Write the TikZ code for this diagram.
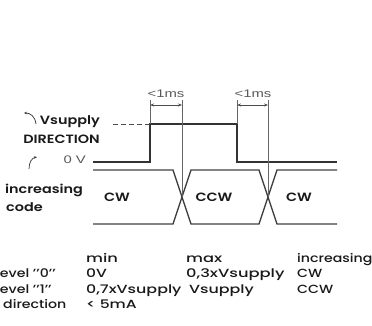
\documentclass[tikz,border=0pt]{standalone}
\usepackage{graphicx}
\usepackage{fontspec}
\setmainfont{Poppins}[UprightFont=* Medium, BoldFont=* SemiBold, FakeStretch=1.2]
\newfontfamily\arialf{Liberation Sans}[FakeStretch=1.35]
\usetikzlibrary{arrows.meta}
\newcommand{\wideT}[2]{\scalebox{#1}[1]{#2}}
\begin{document}
\begin{tikzpicture}[x=1pt,y=-1pt,
  sig/.style={line width=1.6pt, draw=black!80, line join=miter},
  bus/.style={line width=1.4pt, draw=black!75},
  guide/.style={line width=0.5pt, draw=black!60},
  dim/.style={line width=0.6pt, draw=black!70, {Stealth[length=4pt,width=3pt]}-{Stealth[length=4pt,width=3pt]}},
  curv/.style={line width=0.7pt, draw=black!80, -{Stealth[length=3pt,width=2.5pt]}},
  lbl/.style={font=\bfseries\fontsize{12}{14}\selectfont, inner sep=0pt, text=black!90},
  tbl/.style={font=\fontsize{11.8}{14}\selectfont, inner sep=0pt, anchor=base west, text=black!90},
  ms/.style={font=\arialf\fontsize{11}{13}\selectfont, text=black!65, inner sep=0pt}]
\useasboundingbox (0,0) rectangle (372,325);
% waveform points
\coordinate (s0) at (93,162);
\coordinate (s1) at (150,162);
\coordinate (s2) at (150,124);
\coordinate (s3) at (237,124);
\coordinate (s4) at (237,162);
\coordinate (s5) at (337,162);
\coordinate (d0) at (113,124);
\draw[sig] (s0) -- (s1) -- (s2) -- (s3) -- (s4) -- (s5);
\draw[line width=0.6pt, draw=black!70, dash pattern=on 5pt off 3pt] (d0) -- (s2);
% bus
\coordinate (t0) at (93,170); \coordinate (t1) at (173,170); \coordinate (t2) at (191,224);
\coordinate (t3) at (259,224); \coordinate (t4) at (277,170); \coordinate (t5) at (337,170);
\coordinate (b0) at (93,224); \coordinate (b1) at (173,224); \coordinate (b2) at (191,170);
\coordinate (b3) at (259,170); \coordinate (b4) at (277,224); \coordinate (b5) at (337,224);
\draw[bus] (t0) -- (t1) -- (t2) -- (t3) -- (t4) -- (t5);
\draw[bus] (b0) -- (b1) -- (b2) -- (b3) -- (b4) -- (b5);
% guides
\coordinate (g1a) at (150,100); \coordinate (g2a) at (182,100); \coordinate (g2b) at (182,197);
\coordinate (g3a) at (237,100); \coordinate (g4a) at (268,100); \coordinate (g4b) at (268,197);
\draw[guide] (g1a) -- (s2);
\draw[guide] (g2a) -- (g2b);
\draw[guide] (g3a) -- (s3);
\draw[guide] (g4a) -- (g4b);
\coordinate (a1) at (150,105); \coordinate (a2) at (182,105);
\coordinate (a3) at (237,105); \coordinate (a4) at (268,105);
\draw[dim] (a1) -- (a2);
\draw[dim] (a3) -- (a4);
\node[ms, anchor=base] (ms1) at (166,97) {<1ms};
\node[ms, anchor=base] (ms2) at (253,97) {<1ms};
% left labels
\node[lbl, anchor=base east] (vs) at (100,124) {Vsupply};
\node[lbl, anchor=base east] (dir) at (100,143) {DIRECTION};
\node[ms, anchor=base east] (zv) at (86,163) {0 V};
\coordinate (c1s) at (36,124); \coordinate (c1e) at (24,113);
\draw[curv] (c1s) .. controls (35,116) and (30,113) .. (c1e);
\coordinate (c2s) at (29,169); \coordinate (c2e) at (37,157);
\draw[curv] (c2s) .. controls (29,162) and (32,158) .. (c2e);
\node[lbl, anchor=base west] (inc) at (5,193) {increasing};
\node[lbl, anchor=base west] (code) at (6,211) {code};
\node[lbl] (cw1) at (117,197) {CW};
\node[lbl] (ccw) at (214,197) {CCW};
\node[lbl] (cw2) at (299,197) {CW};
% table
\node[tbl] (hmin) at (86,262) {\wideT{1.15}{min}};
\node[tbl] (hmax) at (186,262) {\wideT{1.15}{max}};
\node[tbl] (hinc) at (297,262) {increasing};
\node[tbl] (l0) at (-4,277) {level \symbol{39}\symbol{39}0\symbol{39}\symbol{39}};
\node[tbl] (v0a) at (86,277) {\wideT{1.1}{0V}};
\node[tbl] (v0b) at (186,277) {\wideT{1.15}{0,3xVsupply}};
\node[tbl] (v0c) at (297,277) {CW};
\node[tbl] (l1) at (-4,293) {level \symbol{39}\symbol{39}1\symbol{39}\symbol{39}};
\node[tbl] (v1a) at (86,293) {\wideT{1.12}{0,7xVsupply}};
\node[tbl] (v1b) at (189,293) {\wideT{1.12}{Vsupply}};
\node[tbl] (v1c) at (297,293) {CCW};
\node[tbl] (ld) at (3,308) {direction};
\node[tbl] (vda) at (86,308) {\wideT{1.1}{< 5mA}};
\end{tikzpicture}
\end{document}
